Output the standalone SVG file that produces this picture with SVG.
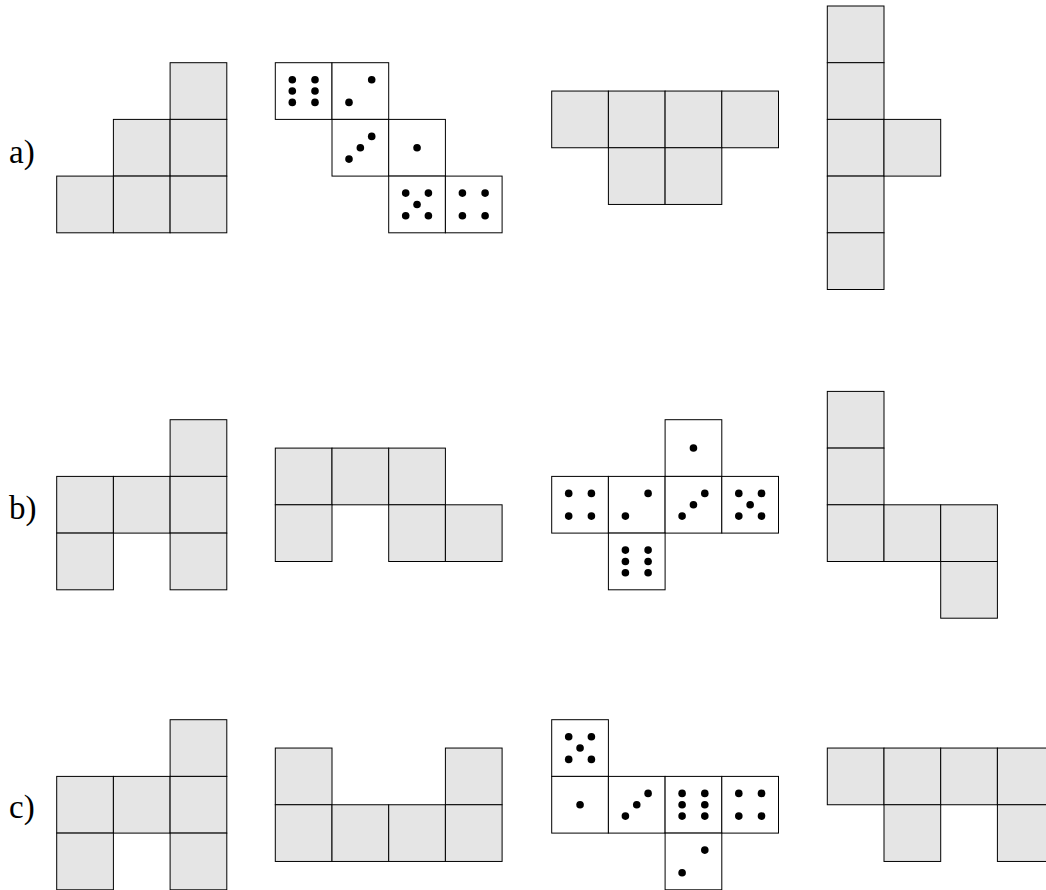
<svg xmlns="http://www.w3.org/2000/svg" xmlns:xlink="http://www.w3.org/1999/xlink" width="1046" height="890" viewBox="0 0 1046 890">
<style>
.g{fill:#e5e5e5;stroke:#000;stroke-width:1}
.w{fill:#fff;stroke:#000;stroke-width:1}
.p{fill:#000}
.lbl{font-family:"Liberation Serif","DejaVu Serif",serif;font-size:33px;fill:#000}
</style>
<defs>
<rect id="c" class="g" width="56.7" height="56.7"/>
<g id="f1"><rect class="w" width="56.7" height="56.7"/><circle class="p" cx="28.35" cy="28.35" r="3.8"/></g>
<g id="f2"><rect class="w" width="56.7" height="56.7"/><circle class="p" cx="39.7" cy="17" r="3.8"/><circle class="p" cx="17" cy="39.7" r="3.8"/></g>
<g id="f3"><rect class="w" width="56.7" height="56.7"/><circle class="p" cx="39.7" cy="17" r="3.8"/><circle class="p" cx="28.35" cy="28.35" r="3.8"/><circle class="p" cx="17" cy="39.7" r="3.8"/></g>
<g id="f4"><rect class="w" width="56.7" height="56.7"/><circle class="p" cx="17" cy="17" r="3.8"/><circle class="p" cx="39.7" cy="17" r="3.8"/><circle class="p" cx="17" cy="39.7" r="3.8"/><circle class="p" cx="39.7" cy="39.7" r="3.8"/></g>
<g id="f5"><rect class="w" width="56.7" height="56.7"/><circle class="p" cx="17" cy="17" r="3.8"/><circle class="p" cx="39.7" cy="17" r="3.8"/><circle class="p" cx="28.35" cy="28.35" r="3.8"/><circle class="p" cx="17" cy="39.7" r="3.8"/><circle class="p" cx="39.7" cy="39.7" r="3.8"/></g>
<g id="f6"><rect class="w" width="56.7" height="56.7"/><circle class="p" cx="17" cy="17" r="3.8"/><circle class="p" cx="39.7" cy="17" r="3.8"/><circle class="p" cx="17" cy="28.35" r="3.8"/><circle class="p" cx="39.7" cy="28.35" r="3.8"/><circle class="p" cx="17" cy="39.7" r="3.8"/><circle class="p" cx="39.7" cy="39.7" r="3.8"/></g>
</defs>
<g id="labels">
<text class="lbl" x="9" y="163">a)</text>
<text class="lbl" x="9" y="519">b)</text>
<text class="lbl" x="9" y="818">c)</text>
</g>
<g id="a1">
<use href="#c" x="170.1" y="62.7"/><use href="#c" x="113.4" y="119.4"/><use href="#c" x="170.1" y="119.4"/>
<use href="#c" x="56.7" y="176.1"/><use href="#c" x="113.4" y="176.1"/><use href="#c" x="170.1" y="176.1"/>
</g>
<g id="a2">
<use href="#f6" x="275.3" y="62.7"/><use href="#f2" x="332" y="62.7"/><use href="#f3" x="332" y="119.4"/>
<use href="#f1" x="388.7" y="119.4"/><use href="#f5" x="388.7" y="176.1"/><use href="#f4" x="445.4" y="176.1"/>
</g>
<g id="a3">
<use href="#c" x="551.7" y="91.05"/><use href="#c" x="608.4" y="91.05"/><use href="#c" x="665.1" y="91.05"/><use href="#c" x="721.8" y="91.05"/>
<use href="#c" x="608.4" y="147.75"/><use href="#c" x="665.1" y="147.75"/>
</g>
<g id="a4">
<use href="#c" x="827.3" y="6"/><use href="#c" x="827.3" y="62.7"/><use href="#c" x="827.3" y="119.4"/><use href="#c" x="827.3" y="176.1"/><use href="#c" x="827.3" y="232.8"/>
<use href="#c" x="884" y="119.4"/>
</g>
<g id="b1">
<use href="#c" x="170.1" y="419.7"/><use href="#c" x="56.7" y="476.4"/><use href="#c" x="113.4" y="476.4"/><use href="#c" x="170.1" y="476.4"/>
<use href="#c" x="56.7" y="533.1"/><use href="#c" x="170.1" y="533.1"/>
</g>
<g id="b2">
<use href="#c" x="275.3" y="448.1"/><use href="#c" x="332" y="448.1"/><use href="#c" x="388.7" y="448.1"/>
<use href="#c" x="275.3" y="504.8"/><use href="#c" x="388.7" y="504.8"/><use href="#c" x="445.4" y="504.8"/>
</g>
<g id="b3">
<use href="#f1" x="665.1" y="419.7"/><use href="#f4" x="551.7" y="476.4"/><use href="#f2" x="608.4" y="476.4"/>
<use href="#f3" x="665.1" y="476.4"/><use href="#f5" x="721.8" y="476.4"/><use href="#f6" x="608.4" y="533.1"/>
</g>
<g id="b4">
<use href="#c" x="827.3" y="391.4"/><use href="#c" x="827.3" y="448.1"/><use href="#c" x="827.3" y="504.8"/>
<use href="#c" x="884" y="504.8"/><use href="#c" x="940.7" y="504.8"/><use href="#c" x="940.7" y="561.5"/>
</g>
<g id="c1">
<use href="#c" x="170.1" y="719.7"/><use href="#c" x="56.7" y="776.4"/><use href="#c" x="113.4" y="776.4"/><use href="#c" x="170.1" y="776.4"/>
<use href="#c" x="56.7" y="833.1"/><use href="#c" x="170.1" y="833.1"/>
</g>
<g id="c2">
<use href="#c" x="275.3" y="748.05"/><use href="#c" x="445.4" y="748.05"/>
<use href="#c" x="275.3" y="804.75"/><use href="#c" x="332" y="804.75"/><use href="#c" x="388.7" y="804.75"/><use href="#c" x="445.4" y="804.75"/>
</g>
<g id="c3">
<use href="#f5" x="551.7" y="719.7"/><use href="#f1" x="551.7" y="776.4"/><use href="#f3" x="608.4" y="776.4"/>
<use href="#f6" x="665.1" y="776.4"/><use href="#f4" x="721.8" y="776.4"/><use href="#f2" x="665.1" y="833.1"/>
</g>
<g id="c4">
<use href="#c" x="827.3" y="748.05"/><use href="#c" x="884" y="748.05"/><use href="#c" x="940.7" y="748.05"/><use href="#c" x="997.4" y="748.05"/>
<use href="#c" x="884" y="804.75"/><use href="#c" x="997.4" y="804.75"/>
</g>
</svg>
